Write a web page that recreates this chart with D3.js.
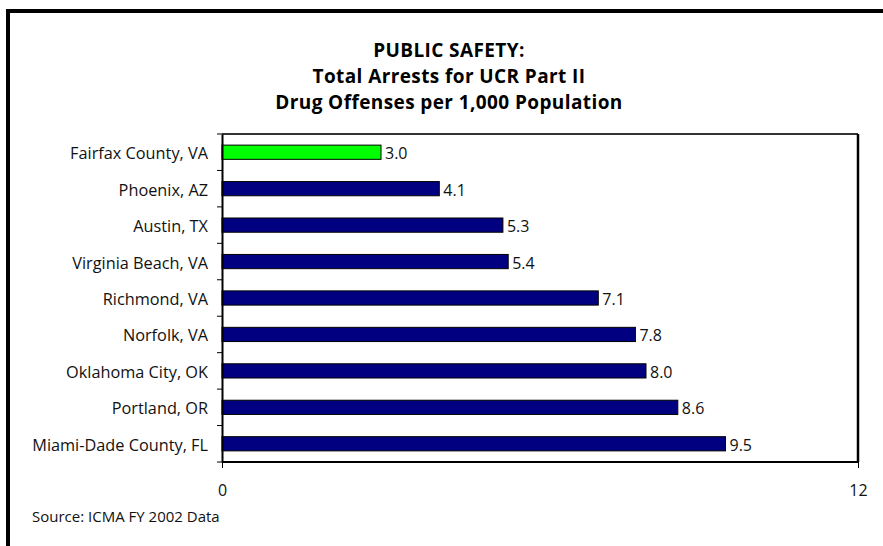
<!DOCTYPE html>
<html><head><meta charset="utf-8">
<script src="https://cdn.jsdelivr.net/npm/d3@7"></script>
<style>
html,body{margin:0;padding:0;background:#fff;}
svg{display:block;}
text{font-family:"Open Sans", sans-serif;}
</style></head>
<body>
<svg id="chart" width="883" height="546"></svg>
<script>
const categories = ["Fairfax County, VA","Phoenix, AZ","Austin, TX","Virginia Beach, VA","Richmond, VA","Norfolk, VA","Oklahoma City, OK","Portland, OR","Miami-Dade County, FL"];
const values = [3.0, 4.1, 5.3, 5.4, 7.1, 7.8, 8.0, 8.6, 9.5];
const highlight = "Fairfax County, VA";
const xTicks = [0, 12];
const titleLines = ["PUBLIC SAFETY:", "Total Arrests for UCR Part II", "Drug Offenses per 1,000 Population"];
const sourceText = "Source: ICMA FY 2002 Data";

const svg = d3.select("#chart");
// outer frame (left and top)
svg.append("rect").attr("x",6).attr("y",9).attr("width",4).attr("height",537).attr("fill","#000");
svg.append("rect").attr("x",6).attr("y",9).attr("width",877).attr("height",4).attr("fill","#000");

const pL = 222, pR = 858, pT = 134, pB = 462;
const x = d3.scaleLinear().domain([0,12]).range([pL,pR]);
const y = d3.scaleBand().domain(categories).range([pT,pB]).paddingInner(0.61).paddingOuter(0.305);
const yb = d3.scaleBand().domain(categories).range([pT,pB]);

// title
svg.selectAll("text.title").data(titleLines).join("text").attr("class","title")
  .attr("text-anchor","middle").attr("font-size",19).attr("font-weight","bold")
  .attr("letter-spacing","0.4px").attr("fill","#000")
  .attr("x",449).attr("y",(d,i)=>57+i*26).text(d=>d);

// bars
svg.selectAll("rect.bar").data(values).join("rect").attr("class","bar")
  .attr("x",x(0)).attr("y",(d,i)=>y(categories[i]))
  .attr("width",d=>x(d)-x(0)).attr("height",y.bandwidth())
  .attr("fill",(d,i)=>categories[i]===highlight?"#00ff00":"#000080")
  .attr("stroke","#000").attr("stroke-width",1);

// value labels
svg.selectAll("text.val").data(values).join("text").attr("class","val")
  .attr("x",d=>x(d)+4).attr("y",(d,i)=>y(categories[i])+y.bandwidth()/2+7)
  .attr("font-size",16).attr("fill","#111")
  .text(d=>d3.format(".1f")(d));

// plot frame top & right
svg.append("line").attr("x1",pL).attr("x2",pR).attr("y1",pT).attr("y2",pT).attr("stroke","#333").attr("stroke-width",2);
svg.append("line").attr("x1",pR).attr("x2",pR).attr("y1",pT).attr("y2",pB).attr("stroke","#000").attr("stroke-width",2.5);

// y axis
const yAxis = svg.append("g").attr("transform",`translate(${pL},0)`)
  .call(d3.axisLeft(yb).tickSize(0).tickPadding(14));
yAxis.select(".domain").attr("stroke","#000").attr("stroke-width",2);
yAxis.selectAll("text").attr("font-size",16.3).attr("fill","#111").attr("dy",null).attr("y",7)
  .style("font-family","'Open Sans', sans-serif");
// separator ticks between categories
const sepPos = d3.range(categories.length+1).map(i=>pT + i*yb.step());
svg.selectAll("line.ytick").data(sepPos).join("line").attr("class","ytick")
  .attr("x1",pL-5).attr("x2",pL).attr("y1",d=>d).attr("y2",d=>d).attr("stroke","#000").attr("stroke-width",1);

// x axis
const xAxis = svg.append("g").attr("transform",`translate(0,${pB})`)
  .call(d3.axisBottom(x).tickValues(xTicks).tickSize(6).tickPadding(15).tickFormat(d3.format("d")));
xAxis.select(".domain").attr("stroke","#000").attr("stroke-width",2).attr("d",`M${pL},0H${pR}`);
xAxis.selectAll(".tick line").attr("stroke","#000");
xAxis.selectAll("text").attr("font-size",16).attr("fill","#111").attr("dy",null).attr("y",34)
  .style("font-family","'Open Sans', sans-serif");

// source
svg.append("text").attr("x",32).attr("y",522).attr("font-size",15).attr("fill","#111").text(sourceText);
</script>
</body></html>
